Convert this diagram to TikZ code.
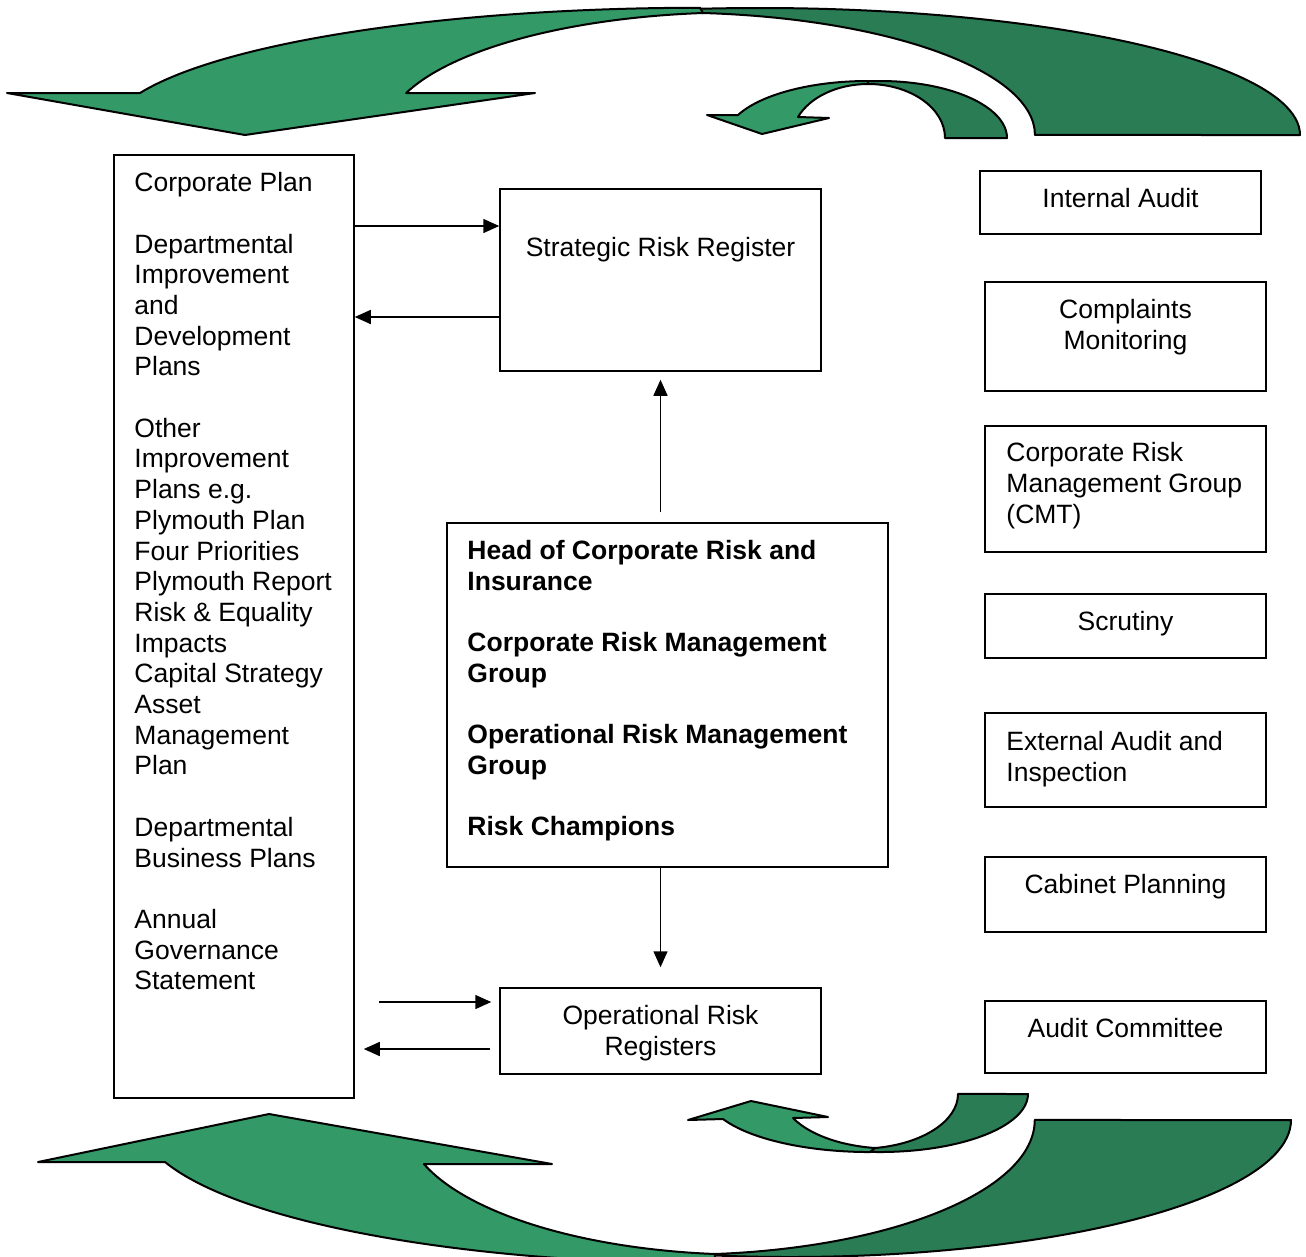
\documentclass[tikz,border=0pt]{standalone}
\usepackage{fontspec}
\setmainfont{Liberation Sans}
\usetikzlibrary{positioning,arrows.meta}
\definecolor{lgreen}{RGB}{51,153,102}
\definecolor{dgreen}{RGB}{41,124,83}
\begin{document}
\begin{tikzpicture}[x=1pt,y=-1pt]
    \tikzstyle{box}=[draw,line width=1.5pt,inner sep=0pt]
    \tikzstyle{txt}=[inner sep=0pt,align=center,font={\fontsize{26.5pt}{30.7pt}\selectfont}]
    \tikzstyle{arr}=[line width=1.5pt,-{Triangle[length=16pt,width=14pt]}]
    \tikzstyle{band}=[draw=black,line width=2pt,line join=round]
    \useasboundingbox (0,0) rectangle (1306,1256);
    % the four green curved arrows
    \begin{scope}
      \clip (0,0) rectangle (1306,1256);
      \filldraw[band,fill=dgreen] (1300,135) arc[start angle=0,end angle=100,x radius=540pt,y radius=127pt]
        -- (703,13) arc[start angle=84.8,end angle=0,x radius=365pt,y radius=122.5pt] -- cycle;
      \filldraw[band,fill=lgreen] (7,93) -- (140,93) arc[start angle=160.8,end angle=90,x radius=593pt,y radius=127pt]
        -- (703,13) arc[start angle=96,end angle=160,x radius=355.5pt,y radius=122.7pt]
        -- (535,93) -- (245,135) -- cycle;
      \filldraw[band,fill=dgreen] (1007,138) arc[start angle=0,end angle=100,x radius=127pt,y radius=57pt]
        -- (868,84) arc[start angle=90,end angle=0,x radius=77pt,y radius=54pt] -- cycle;
      \filldraw[band,fill=lgreen] (707,115) -- (738,115) arc[start angle=156.2,end angle=90,x radius=142pt,y radius=57pt]
        -- (868,84) arc[start angle=90,end angle=157.1,x radius=76pt,y radius=54pt]
        -- (829,118) -- (762,134) -- cycle;
      \filldraw[band,fill=dgreen] (1291,1120) arc[start angle=0,end angle=-100,x radius=501pt,y radius=137pt]
        -- (715,1254) arc[start angle=-84.3,end angle=0,x radius=355pt,y radius=134.7pt] -- cycle;
      \filldraw[band,fill=lgreen] (38,1162) -- (165,1162) arc[start angle=197,end angle=270,x radius=575pt,y radius=143.4pt]
        -- (715,1254) arc[start angle=264.2,end angle=199.1,x radius=344.9pt,y radius=134.7pt]
        -- (552,1164) -- (269,1114) -- cycle;
      \filldraw[band,fill=dgreen] (1028,1094) arc[start angle=0,end angle=-100,x radius=148pt,y radius=58pt]
        -- (875,1148) arc[start angle=-81.2,end angle=0,x radius=98pt,y radius=54.7pt] -- cycle;
      \filldraw[band,fill=lgreen] (688,1120) -- (723,1119) arc[start angle=205.5,end angle=270,x radius=163pt,y radius=58pt]
        -- (875,1148) arc[start angle=262,end angle=206.1,x radius=108pt,y radius=54.5pt]
        -- (828,1117) -- (751,1101) -- cycle;
    \end{scope}
    % plans on the left
    \node[box,minimum width=240pt,minimum height=943pt] at (234,626.5) (plans) {};
    \node[txt,align=left,below right=18pt and 21pt of plans.north west] (plans-t) {Corporate Plan\\[30.7pt]
      Departmental\\Improvement\\and\\Development\\Plans\\[30.7pt]
      Other\\Improvement\\Plans e.g.\\Plymouth Plan\\Four Priorities\\Plymouth Report\\Risk \& Equality\\Impacts\\
      Capital Strategy\\Asset\\Management\\Plan\\[30.7pt]
      Departmental\\Business Plans\\[30.7pt]
      Annual\\Governance\\Statement};
    % registers and groups in the middle
    \node[box,minimum width=321pt,minimum height=182pt] at (660.5,280) (srr) {};
    \node[txt,below=49pt of srr.north] (srr-t) {Strategic Risk Register};
    \node[box,minimum width=441pt,minimum height=344pt] at (667.5,695) (head) {};
    \node[txt,align=left,font={\fontsize{26.5pt}{30.7pt}\selectfont\bfseries},
      below right=18pt and 21pt of head.north west] (head-t) {Head of Corporate Risk and\\Insurance\\[30.7pt]
      Corporate Risk Management\\Group\\[30.7pt]Operational Risk Management\\Group\\[30.7pt]Risk Champions};
    \node[box,minimum width=321pt,minimum height=86pt] at (660.5,1031) (orr) {};
    \node[txt,below=18pt of orr.north] (orr-t) {Operational Risk\\Registers};
    % the column on the right
    \foreach \n/\x/\y/\h/\t in {ia/1120.5/202.5/63/{Internal Audit},
        cm/1125.5/336.5/109/{Complaints\\Monitoring},
        scr/1125.5/626/64/{Scrutiny},
        cp/1125.5/894.5/75/{Cabinet Planning},
        ac/1125.5/1037/72/{Audit Committee}} {
      \node[box,minimum width=281pt,minimum height=\h pt] at (\x,\y) (\n) {};
      \node[txt,below=18pt of \n.north] (\n-t) {\t};
    }
    \node[box,minimum width=281pt,minimum height=126pt] at (1125.5,489) (crmg) {};
    \node[txt,align=left,below right=17pt and 22pt of crmg.north west] (crmg-t) {Corporate Risk\\Management Group\\(CMT)};
    \node[box,minimum width=281pt,minimum height=94pt] at (1125.5,760) (eai) {};
    \node[txt,align=left,below right=19pt and 22pt of eai.north west] (eai-t) {External Audit and\\Inspection};
    % connectors
    \coordinate (s1) at ([yshift=54pt]srr.west);
    \coordinate (s2) at ([yshift=-37pt]srr.west);
    \draw[arr] (s1 -| plans.east) -- (s1);
    \draw[arr] (s2) -- (s2 -| plans.east);
    \draw[arr,shorten <=10pt,shorten >=8pt] (head.north -| srr.south) -- (srr.south);
    \draw[arr,shorten >=20pt] (head.south -| orr.north) -- (orr.north);
    \coordinate (o1) at ([yshift=29pt]orr.west);
    \coordinate (o2) at ([yshift=-18pt]orr.west);
    \draw[arr,shorten <=24pt,shorten >=8pt] (o1 -| plans.east) -- (o1);
    \draw[arr,shorten <=9pt,shorten >=9pt] (o2) -- (o2 -| plans.east);
\end{tikzpicture}
\end{document}
